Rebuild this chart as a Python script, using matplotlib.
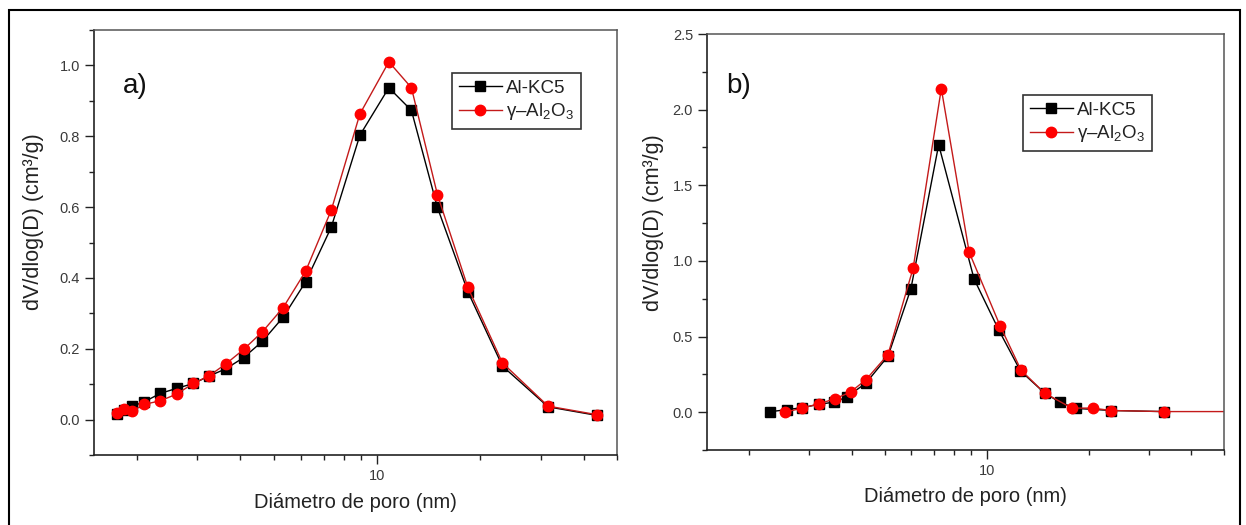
import matplotlib
matplotlib.use("Agg")
import matplotlib.pyplot as plt
from matplotlib.ticker import LogLocator, FixedFormatter, FixedLocator, MultipleLocator, NullFormatter
from matplotlib.patches import Rectangle

plt.rcParams['font.family'] = ['Liberation Sans', 'DejaVu Sans']
plt.rcParams['mathtext.fontset'] = 'custom'
plt.rcParams['mathtext.rm'] = 'Liberation Sans'
plt.rcParams['mathtext.it'] = 'Liberation Sans:italic'

# ---- panel a) ----
diam_a = [1.75, 1.84, 1.94, 2.10, 2.34, 2.61, 2.92, 3.25, 3.64, 4.09, 4.64,
          5.33, 6.20, 7.36, 8.92, 10.83, 12.6, 15.0, 18.4, 23.2, 31.5, 43.6]
alkc5_a = [0.017, 0.027, 0.038, 0.050, 0.074, 0.088, 0.102, 0.123, 0.144, 0.175, 0.221,
           0.289, 0.389, 0.543, 0.803, 0.937, 0.873, 0.599, 0.361, 0.151, 0.036, 0.012]
al2o3_a = [0.020, 0.031, 0.024, 0.043, 0.053, 0.072, 0.102, 0.124, 0.158, 0.198, 0.248,
           0.316, 0.419, 0.591, 0.863, 1.010, 0.937, 0.635, 0.373, 0.160, 0.038, 0.014]

# ---- panel b) ----
diam_b_alkc5 = [2.30, 2.58, 2.86, 3.21, 3.56, 3.87, 4.41, 5.12, 5.98, 7.22,
                9.18, 10.86, 12.57, 14.8, 16.4, 18.3, 23.3, 33.2]
alkc5_b = [0.003, 0.017, 0.030, 0.052, 0.067, 0.100, 0.193, 0.370, 0.816, 1.768,
           0.880, 0.542, 0.273, 0.127, 0.067, 0.025, 0.011, 0.004]
diam_b_al2o3 = [2.55, 2.86, 3.21, 3.58, 3.97, 4.41, 5.12, 6.07, 7.35, 8.88,
                10.96, 12.63, 14.8, 17.8, 20.5, 23.3, 33.2, 60.0]
al2o3_b = [0.000, 0.027, 0.056, 0.089, 0.133, 0.215, 0.381, 0.951, 2.139, 1.057,
           0.569, 0.277, 0.127, 0.027, 0.027, 0.011, 0.004, 0.004]

series_names = ['Al-KC5', 'γ–Al$_2$O$_3$']
x_label = 'Diámetro de poro (nm)'
y_label = 'dV/dlog(D) (cm³/g)'
x_major_ticks = [10]
x_major_labels = ['10']

BLACK = '#000000'
RED_LINE = '#c41a1a'
RED_MARK = '#ff0000'
TXT = '#3a3a3a'

fig = plt.figure(figsize=(12.46, 5.25), dpi=100)
fig.patch.set_facecolor('white')

# outer frame
fig.add_artist(Rectangle((9 / 1246, -0.05), (1240 - 9) / 1246, 1.05 - 10 / 525,
                         transform=fig.transFigure, fill=False, edgecolor='black',
                         linewidth=1.5, clip_on=False))


def style_axes(ax, ylim, ymajor, yminor, ylabel_xy, legend_anchor, tag, tag_xy):
    ax.set_xscale('log')
    ax.set_xlim(1.5, 50)
    ax.set_ylim(*ylim)
    ax.xaxis.set_major_locator(FixedLocator(x_major_ticks))
    ax.xaxis.set_major_formatter(FixedFormatter(x_major_labels))
    ax.xaxis.set_minor_locator(LogLocator(base=10, subs=range(2, 10), numticks=20))
    ax.xaxis.set_minor_formatter(NullFormatter())
    ax.yaxis.set_major_locator(MultipleLocator(ymajor))
    ax.yaxis.set_minor_locator(MultipleLocator(yminor))
    ax.tick_params(which='major', direction='out', length=6.5, width=1.0,
                   labelsize=10.5, labelcolor=TXT, pad=3.5, color='#222222')
    ax.tick_params(which='minor', direction='out', length=3.8, width=1.0, color='#222222')
    ax.tick_params(top=False, right=False, which='both')
    for side in ('left', 'bottom'):
        ax.spines[side].set_color('#222222')
        ax.spines[side].set_linewidth(1.2)
    for side in ('top', 'right'):
        ax.spines[side].set_color('#555555')
        ax.spines[side].set_linewidth(1.1)
    ax.set_xlabel(x_label, fontsize=14.5, color='#222222')
    ax.xaxis.set_label_coords(0.5, -0.09)
    ax.xaxis.label.set_va('top')
    ax.set_ylabel(y_label, fontsize=15.5, color='#222222')
    ax.yaxis.set_label_coords(*ylabel_xy)
    leg = ax.legend(loc='upper left', bbox_to_anchor=legend_anchor,
                    bbox_transform=fig.transFigure, frameon=True, fancybox=False,
                    edgecolor='black', fontsize=13.5, handlelength=2.3,
                    handletextpad=0.25, borderpad=0.35, labelspacing=0.25,
                    borderaxespad=0.0)
    leg.get_frame().set_linewidth(1.2)
    for t in leg.get_texts():
        t.set_color('#222222')
    ax.text(tag_xy[0], tag_xy[1], tag, transform=ax.transAxes, fontsize=20,
            ha='left', va='center', color='#111111')


ax_a = fig.add_axes([94 / 1246, 1 - 455 / 525, (617 - 94) / 1246, (455 - 30) / 525])
ax_a.plot(diam_a, alkc5_a, color=BLACK, lw=1.0, marker='s', ms=7,
          mfc=BLACK, mec=BLACK, label=series_names[0])
ax_a.plot(diam_a, al2o3_a, color=RED_LINE, lw=1.0, marker='o', ms=7.5,
          mfc=RED_MARK, mec=RED_MARK, label=series_names[1])
style_axes(ax_a, (-0.1, 1.1), 0.2, 0.1, (-0.096, 0.548),
           (452 / 1246, 1 - 73 / 525), 'a)', (0.056, 0.868))

ax_b = fig.add_axes([707 / 1246, 1 - 450 / 525, (1224 - 707) / 1246, (450 - 34) / 525])
ax_b.plot(diam_b_alkc5, alkc5_b, color=BLACK, lw=1.0, marker='s', ms=7,
          mfc=BLACK, mec=BLACK, label=series_names[0])
ax_b.plot(diam_b_al2o3, al2o3_b, color=RED_LINE, lw=1.0, marker='o', ms=7.5,
          mfc=RED_MARK, mec=RED_MARK, label=series_names[1])
style_axes(ax_b, (-0.25, 2.5), 0.5, 0.25, (-0.083, 0.547),
           (1023 / 1246, 1 - 95 / 525), 'b)', (0.037, 0.876))

fig.savefig('out.png', dpi=100, facecolor='white')
